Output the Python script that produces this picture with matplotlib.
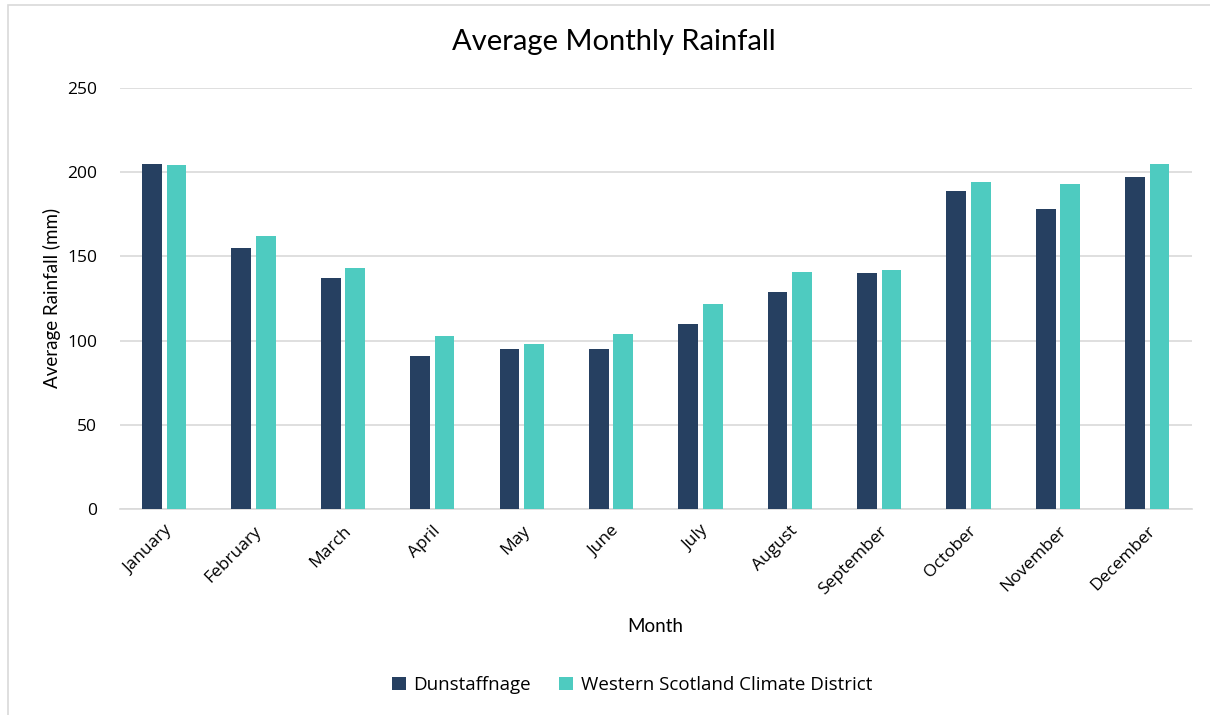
import numpy as np
import matplotlib
matplotlib.use("Agg")
import matplotlib.pyplot as plt
from matplotlib.patches import Rectangle

plt.rcParams['font.family'] = ['Lato', 'DejaVu Sans']

DPI = 100
FIGSIZE_X = 1210
FIGSIZE_Y = 715

# ------ data ------------------------------------------------------------------

months = ["January", "February", "March", "April", "May", "June",
          "July", "August", "September", "October", "November", "December"]

dunstaffnage = [205, 155, 137, 91, 95, 95, 110, 129, 140, 189, 178, 197]
western_scotland = [204, 162, 143, 103, 98, 104, 122, 141, 142, 194, 193, 205]

COL_DUN = "#264061"
COL_WSC = "#4ECBC0"
GRID = "#D9D9D9"
WIDE = ['Open Sans', 'DejaVu Sans']

# ------ figure ----------------------------------------------------------------

fig = plt.figure(figsize=(FIGSIZE_X/DPI, FIGSIZE_Y/DPI), dpi=DPI)
ax = fig.add_axes([119.5/FIGSIZE_X, 1 - 509/FIGSIZE_Y,
                   (1192 - 119.5)/FIGSIZE_X, (509 - 88)/FIGSIZE_Y])

# chart area border (top and left visible in the reference)
fig.patches.append(Rectangle((8/FIGSIZE_X, -0.05), 1.2, 1 - 5/FIGSIZE_Y + 0.05,
                             transform=fig.transFigure, fill=False,
                             edgecolor=GRID, linewidth=1.2))

x = np.arange(len(months))
w = 0.22
off = 0.137

ax.bar(x - off, dunstaffnage, w, color=COL_DUN, label="Dunstaffnage", zorder=3)
ax.bar(x + off, western_scotland, w, color=COL_WSC,
       label="Western Scotland Climate District", zorder=3)

ax.set_xlim(-0.5, len(months) - 0.5)
ax.set_ylim(0, 250)
ax.set_yticks(np.arange(0, 251, 50))
ax.yaxis.grid(True, color=GRID, linewidth=1.2, zorder=0)

for s in ['top', 'right', 'left']:
    ax.spines[s].set_visible(False)
ax.spines['bottom'].set_color(GRID)
ax.spines['bottom'].set_linewidth(1.2)

ax.tick_params(axis='both', length=0, colors='#000000')
ax.tick_params(axis='y', pad=16)
ax.tick_params(axis='x', pad=10)
ax.set_xticks(x)
ax.set_xticklabels(months, rotation=45, ha='right', rotation_mode='anchor',
                   family=WIDE, fontsize=12.5)
for lbl in ax.get_yticklabels():
    lbl.set_family(WIDE)
    lbl.set_fontsize(12.5)

fig.text(614/FIGSIZE_X, 1 - 42/FIGSIZE_Y, "Average Monthly Rainfall",
         ha='center', va='center', fontsize=21)
fig.text(655/FIGSIZE_X, 1 - 627/FIGSIZE_Y, "Month",
         ha='center', va='center', fontsize=13.5)
fig.text(52/FIGSIZE_X, 1 - 298/FIGSIZE_Y, "Average Rainfall (mm)",
         ha='center', va='center', rotation=90, fontsize=13.5)

fig.legend(loc='center', bbox_to_anchor=(632/FIGSIZE_X, 1 - 685/FIGSIZE_Y),
           ncol=2, frameon=False, handlelength=0.75,
           handleheight=0.75, handletextpad=0.4, columnspacing=1.5,
           prop={'family': WIDE, 'size': 13.5})

plt.savefig("out.png", dpi=DPI)
plt.close()
